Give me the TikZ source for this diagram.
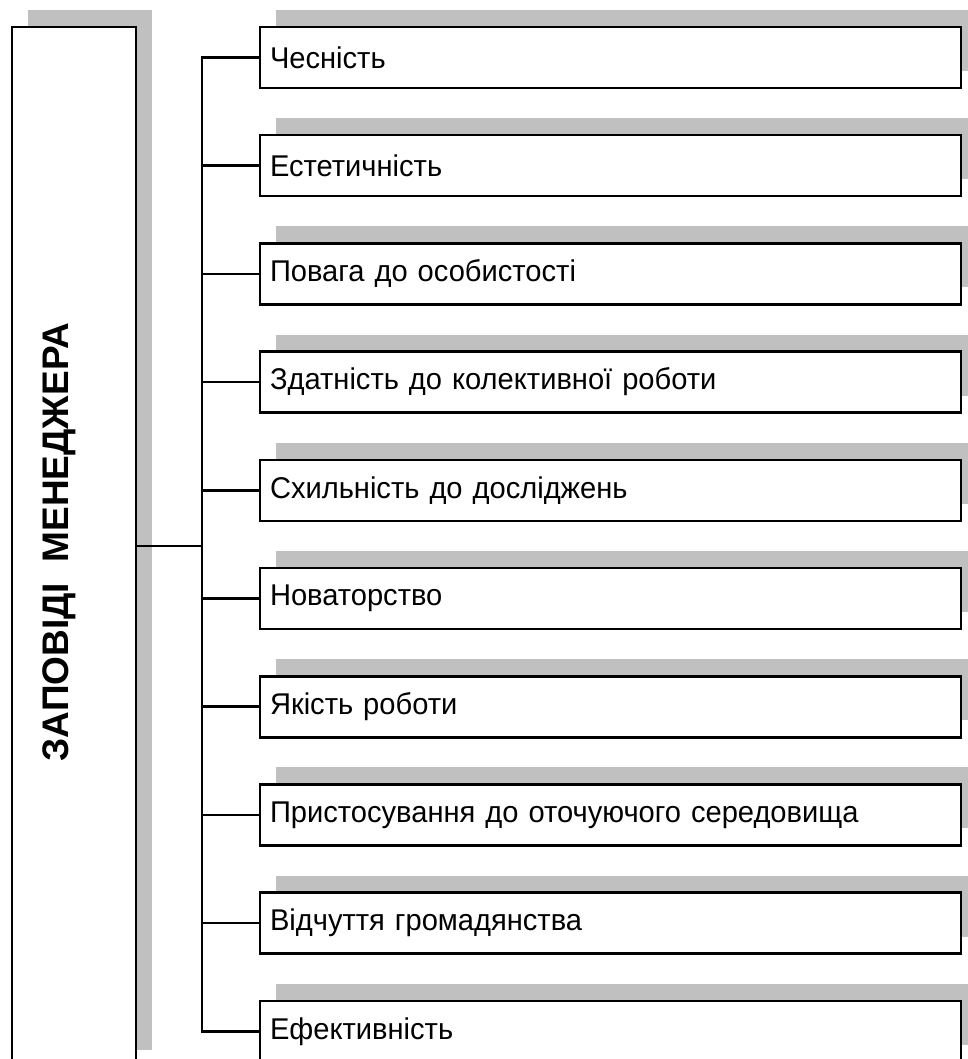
\documentclass[tikz,border=0pt]{standalone}
\usepackage{fontspec}
\setmainfont{Liberation Sans}
\newfontfamily\itemfont{Liberation Sans}[FakeStretch=0.97]
\usetikzlibrary{shadows}
\definecolor{shadowgray}{RGB}{192,192,192}
\begin{document}
\begin{tikzpicture}[x=1pt,y=-1pt,
  box/.style={draw=black, line width=2.6pt, fill=white, rectangle, outer sep=0pt,
    drop shadow={shadow xshift=16pt, shadow yshift=17pt, fill=shadowgray, opacity=1}},
  item/.style={box, anchor=north west, minimum width=701pt, minimum height=61pt,
    text width=681pt, inner xsep=10pt, inner ysep=0pt, align=left,
    font=\itemfont\fontsize{30}{36}\selectfont},
  link/.style={line width=2.6pt}]
\useasboundingbox (0,0) rectangle (968,1059);
\clip (0,0) rectangle (968,1059);
\node[box, anchor=north west, minimum width=124pt, minimum height=1040pt] (main) at (12,27) {};
\node[rotate=90, font=\fontsize{37}{44}\selectfont\bfseries] (title) at (59,542) {ЗАПОВІДІ\ \ МЕНЕДЖЕРА};
\node[item] (i1) at (260,27.0) {Чесність};
\node[item] (i2) at (260,135.2) {Естетичність};
\node[item] (i3) at (260,243.4) {Повага до особистості};
\node[item] (i4) at (260,351.6) {Здатність до колективної роботи};
\node[item] (i5) at (260,459.8) {Схильність до досліджень};
\node[item] (i6) at (260,568.0) {Новаторство};
\node[item] (i7) at (260,676.2) {Якість роботи};
\node[item] (i8) at (260,784.4) {Пристосування до оточуючого середовища};
\node[item] (i9) at (260,892.6) {Відчуття громадянства};
\node[item] (i10) at (260,1000.8) {Ефективність};
\coordinate (tx) at (202,546);
\draw[link] (i1.west) -| (tx |- i10.west) -- (i10.west);
\foreach \k in {2,...,9} \draw[link] (i\k.west) -- (tx |- i\k.west);
\draw[link] (main.east |- tx) -- (tx);
\end{tikzpicture}
\end{document}
